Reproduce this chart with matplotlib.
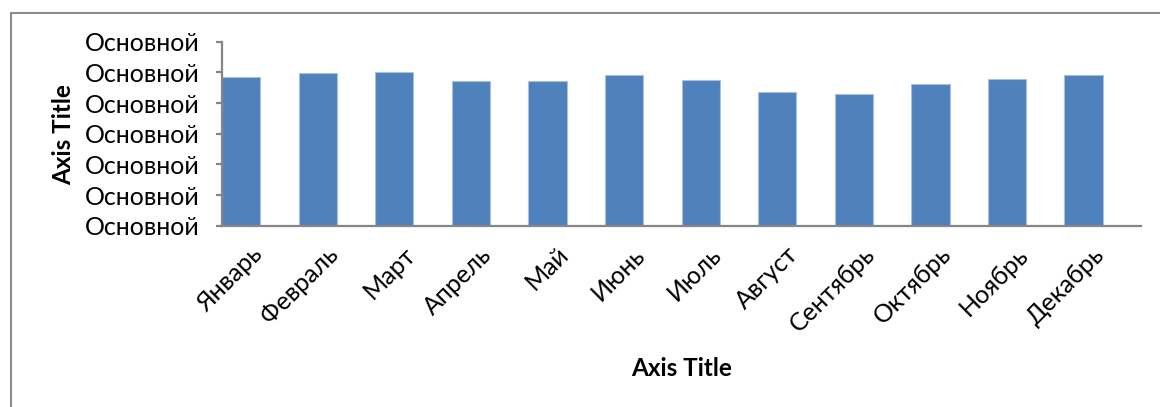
import matplotlib.pyplot as plt
from matplotlib.lines import Line2D
from matplotlib.transforms import ScaledTranslation

months = ["Январь", "Февраль", "Март", "Апрель", "Май", "Июнь",
          "Июль", "Август", "Сентябрь", "Октябрь", "Ноябрь", "Декабрь"]
values = [4.86, 4.97, 5.00, 4.71, 4.71, 4.90, 4.75, 4.35, 4.29, 4.61, 4.78, 4.90]
y_ticks = [0, 1, 2, 3, 4, 5, 6]
y_tick_labels = ["Основной"] * len(y_ticks)

BAR_COLOR = "#4f81bd"
AXIS_COLOR = "#868686"
FONT = ["Lato", "DejaVu Sans"]


def main():
    plt.rcParams['font.family'] = FONT
    fig = plt.figure(figsize=(11.6, 4.07), dpi=100)
    W, H = 1160, 407
    ax = fig.add_axes([222 / W, 1 - 225.7 / H, 919 / W, 184 / H])

    x = list(range(len(months)))
    ax.bar(x, values, width=0.5, color=BAR_COLOR, edgecolor="#a9c0dd", linewidth=0.8)

    ax.set_xlim(-0.25, 11.75)
    ax.set_ylim(0, 6)
    ax.set_yticks(y_ticks)
    ax.set_yticklabels(y_tick_labels, fontsize=18)
    ax.set_xticks(x)
    ax.set_xticklabels(months, fontsize=18, rotation=45, ha="right", va="center",
                       rotation_mode="anchor")

    for s in ["top", "right"]:
        ax.spines[s].set_visible(False)
    for s in ["left", "bottom"]:
        ax.spines[s].set_color(AXIS_COLOR)
        ax.spines[s].set_linewidth(1.6)

    ax.tick_params(axis="y", length=4, width=1.6, color=AXIS_COLOR, pad=12)
    ax.tick_params(axis="x", length=0, pad=18)

    shift = ScaledTranslation(17 / 100, 0, fig.dpi_scale_trans)
    for lab in ax.get_xticklabels():
        lab.set_transform(lab.get_transform() + shift)

    fig.text(682 / W, 1 - 368 / H, "Axis Title", fontsize=17.5, fontweight="bold",
             ha="center", va="center")
    fig.text(64 / W, 1 - 135 / H, "Axis Title", fontsize=17.5, fontweight="bold",
             rotation=90, ha="center", va="center")

    # outer chart frame
    fig.add_artist(Line2D([11 / W, 11 / W, 1], [0, 1 - 12.5 / H, 1 - 12.5 / H],
                          transform=fig.transFigure, color="#8c8c8c", lw=1.5))

    fig.savefig("out.png", dpi=100)


if __name__ == '__main__':
    main()
